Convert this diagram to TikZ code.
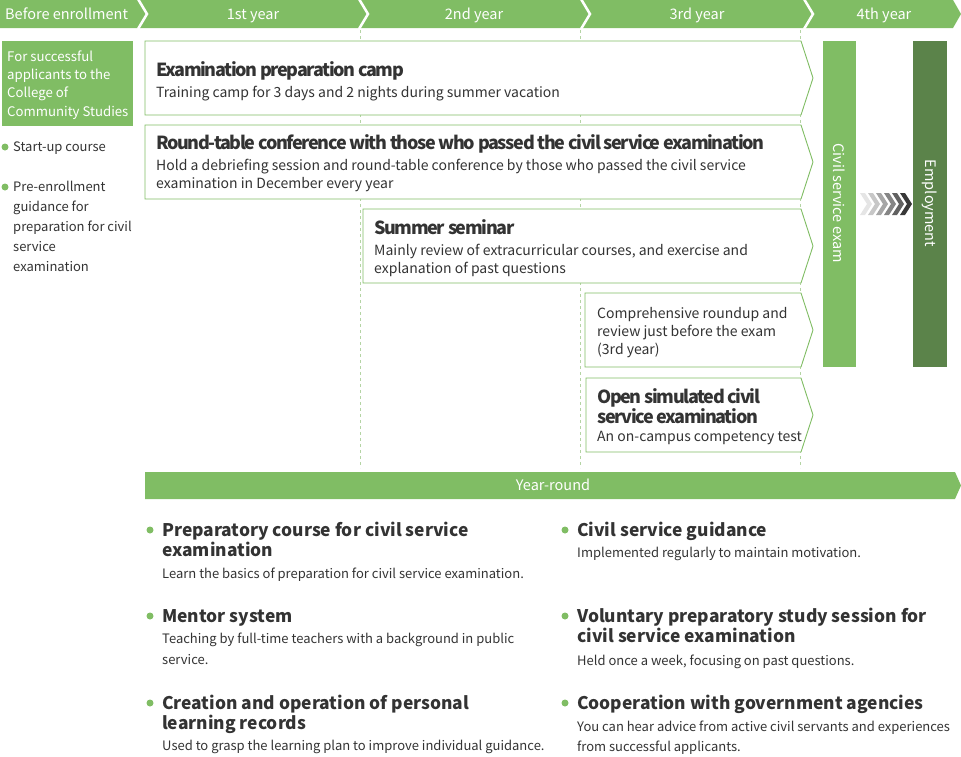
\documentclass[tikz,border=0pt]{standalone}
\usepackage{fontspec}
\setmainfont{Noto Sans CJK KR}
\newfontfamily\boxtitle{Noto Sans CJK KR}[LetterSpace=-7.5]
\definecolor{lgreen}{HTML}{80BD64}
\definecolor{dgreen}{HTML}{5B834A}
\definecolor{txt}{HTML}{333333}
\definecolor{dashc}{HTML}{B4D4A4}
\begin{document}
\begin{tikzpicture}[x=1pt,y=-1pt,
    every node/.style={inner sep=0pt,text=txt},
    stage/.style={draw=lgreen,fill=white,line width=0.9pt},
    head/.style={text=white,font=\fontsize{14.5}{16}\selectfont},
    ttl/.style={anchor=base west,align=left,font=\boxtitle\bfseries\fontsize{18}{20}\selectfont},
    bdy/.style={anchor=base west,align=left,font=\fontsize{14}{18}\selectfont},
    side/.style={anchor=base west,align=left,font=\fontsize{13}{20}\selectfont},
    item/.style={anchor=base west,align=left,font=\bfseries\fontsize{17.4}{20}\selectfont},
    note/.style={anchor=base west,align=left,font=\fontsize{13}{20.7}\selectfont}]
\useasboundingbox (0,0) rectangle (961,756);
% header bar
\fill[lgreen] (0,0) -- (953,0) -- (961,14) -- (953,28) -- (0,28) -- cycle;
\foreach \x in {138,359,581,804}
  \draw[white,line width=2.5pt] (\x,-1) -- (\x+9,14) -- (\x,29);
\node[head,anchor=base west] (pre) at (5,19.5) {Before enrollment};
\node[head,anchor=base] (yr1) at (253,19.5) {1st year};
\node[head,anchor=base] (yr2) at (474,19.5) {2nd year};
\node[head,anchor=base] (yr3) at (697,19.5) {3rd year};
\node[head,anchor=base] (yr4) at (884,19.5) {4th year};
% year lines
\foreach \x in {360,580,800}
  \draw[dashc,dash pattern=on 3pt off 3pt] (\x,30) -- (\x,468);
% before enrollment (base = last line)
\fill[lgreen] (2,41) rectangle (133,126);
\node[anchor=base west,align=left,text=white,font=\fontsize{13.2}{18.1}\selectfont] (who) at (7,116)
  {For successful\\applicants to the\\College of\\Community Studies};
\fill[lgreen] (5,147) circle (3.5);
\node[side] (startup) at (13,151.7) {Start-up course};
\fill[lgreen] (5,187) circle (3.5);
\node[side] (guide) at (13,271.7) {Pre-enrollment\\guidance for\\preparation for civil\\service\\examination};
% stages
\foreach \l/\t/\b in {145/41/115,145/125/199,363/209/283,585/293/367,586/378/452}
  \draw[stage] (\l,\t) -- (801,\t) -- (813,{(\t+\b)/2}) -- (801,\b) -- (\l,\b) -- cycle;
\node[ttl] (camp) at (156,76.7) {Examination preparation camp};
\node[bdy] (campd) at (156,97.7) {Training camp for 3 days and 2 nights during summer vacation};
\node[ttl] (conf) at (156,149) {Round-table conference with those who passed the civil service examination};
\node[bdy] (confd) at (156,188) {Hold a debriefing session and round-table conference by those who passed the civil service\\examination in December every year};
\node[ttl] (sem) at (374,234.3) {Summer seminar};
\node[bdy] (semd) at (374,273) {Mainly review of extracurricular courses, and exercise and\\explanation of past questions};
\node[bdy] (rev) at (597,354.3) {Comprehensive roundup and\\review just before the exam\\(3rd year)};
\node[ttl] (sim) at (597,423.3) {Open simulated civil\\service examination};
\node[bdy] (simd) at (597,441) {An on-campus competency test};
% exam and employment
\fill[lgreen] (823,41) rectangle (856,367);
\node[head,rotate=-90] (exam) at (839.5,203) {Civil service exam};
\foreach \i/\c in {0/10,1/22,2/35,3/48,4/62,5/78}
  \fill[black!\c] ({860+8*\i},193) -- ++(5,0) -- ++(7,11) -- ++(-7,11) -- ++(-5,0) -- ++(7,-11) -- cycle;
\fill[dgreen] (913,41) rectangle (947,367);
\node[head,rotate=-90] (job) at (930,203.5) {Employment};
% year-round
\fill[lgreen] (145,472) -- (955,472) -- (961,485.5) -- (955,499) -- (145,499) -- cycle;
\node[head,anchor=base] (round) at (553,490.5) {Year-round};
\foreach \x/\y in {150/530,150/616,150/703,565/530,565/616,565/703}
  \fill[lgreen] (\x,\y) circle (3.5);
\node[item] (prep) at (162,556.7) {Preparatory course for civil service\\examination};
\node[note] (prepd) at (162,578.3) {Learn the basics of preparation for civil service examination.};
\node[item] (mentor) at (162,622.7) {Mentor system};
\node[note] (mentord) at (162,664) {Teaching by full-time teachers with a background in public\\service.};
\node[item] (rec) at (162,729.7) {Creation and operation of personal\\learning records};
\node[note] (recd) at (162,750.7) {Used to grasp the learning plan to improve individual guidance.};
\node[item] (cg) at (577,536.7) {Civil service guidance};
\node[note] (cgd) at (577,557.3) {Implemented regularly to maintain motivation.};
\node[item] (vol) at (577,642.7) {Voluntary preparatory study session for\\civil service examination};
\node[note] (vold) at (577,665) {Held once a week, focusing on past questions.};
\node[item] (gov) at (577,709.3) {Cooperation with government agencies};
\node[note] (govd) at (577,751.7) {You can hear advice from active civil servants and experiences\\from successful applicants.};
\end{tikzpicture}
\end{document}
